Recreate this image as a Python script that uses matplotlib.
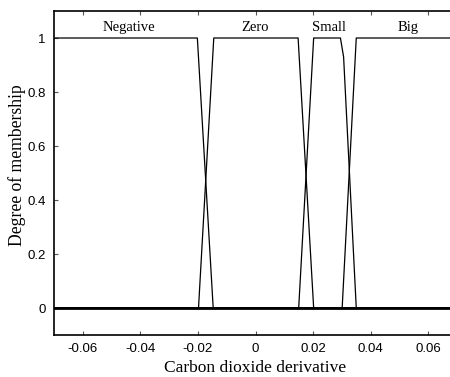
import numpy as np
import matplotlib.pyplot as plt

# trapezoid membership functions (x breakpoints, y values)
x_min, x_max = -0.07, 0.07
neg_x = [x_min, -0.0202, -0.0147, x_max]
neg_y = [1, 1, 0, 0]
zero_x = [x_min, -0.0198, -0.0145, 0.0148, 0.0202, x_max]
zero_y = [0, 0, 1, 1, 0, 0]
small_x = [x_min, 0.015, 0.0202, 0.0295, 0.0306, 0.035, x_max]
small_y = [0, 0, 1, 1, 0.93, 0, 0]
big_x = [x_min, 0.0301, 0.035, x_max]
big_y = [0, 0, 1, 1]

labels = ['Negative', 'Zero', 'Small', 'Big']
label_x = [-0.044, 0.0, 0.0257, 0.053]

xticks = [-0.06, -0.04, -0.02, 0, 0.02, 0.04, 0.06]
xticklabels = ['-0.06', '-0.04', '-0.02', '0', '0.02', '0.04', '0.06']
yticks = [0, 0.2, 0.4, 0.6, 0.8, 1]
yticklabels = ['0', '0.2', '0.4', '0.6', '0.8', '1']

fig = plt.figure(figsize=(4.5, 3.77), dpi=100)
ax = fig.add_axes([0.12, 0.1114, 0.8956, 0.8594])

for xs, ys in [(neg_x, neg_y), (zero_x, zero_y), (small_x, small_y), (big_x, big_y)]:
    ax.plot(xs, ys, color='black', lw=0.9)
ax.axhline(0, color='black', lw=2)

for name, lx in zip(labels, label_x):
    ax.text(lx, 1.015, name, ha='center', va='bottom', family='Liberation Serif', fontsize=10.5)

ax.set_xlim(x_min, x_max)
ax.set_ylim(-0.1, 1.1)
ax.set_xticks(xticks)
ax.set_xticklabels(xticklabels, family='Liberation Sans', fontsize=9.5)
ax.set_yticks(yticks)
ax.set_yticklabels(yticklabels, family='Liberation Sans', fontsize=9.5)
ax.tick_params(direction='in', length=3, color='#555555', top=True, right=True, pad=6)
for s in ax.spines.values():
    s.set_linewidth(1.2)
ax.set_xlabel('Carbon dioxide derivative', family='Liberation Serif', fontsize=12.5, labelpad=3)
ax.set_ylabel('Degree of membership', family='Liberation Serif', fontsize=12.7)
ax.yaxis.set_label_coords(-0.07, 0.525)

plt.savefig('out.png', dpi=100)
